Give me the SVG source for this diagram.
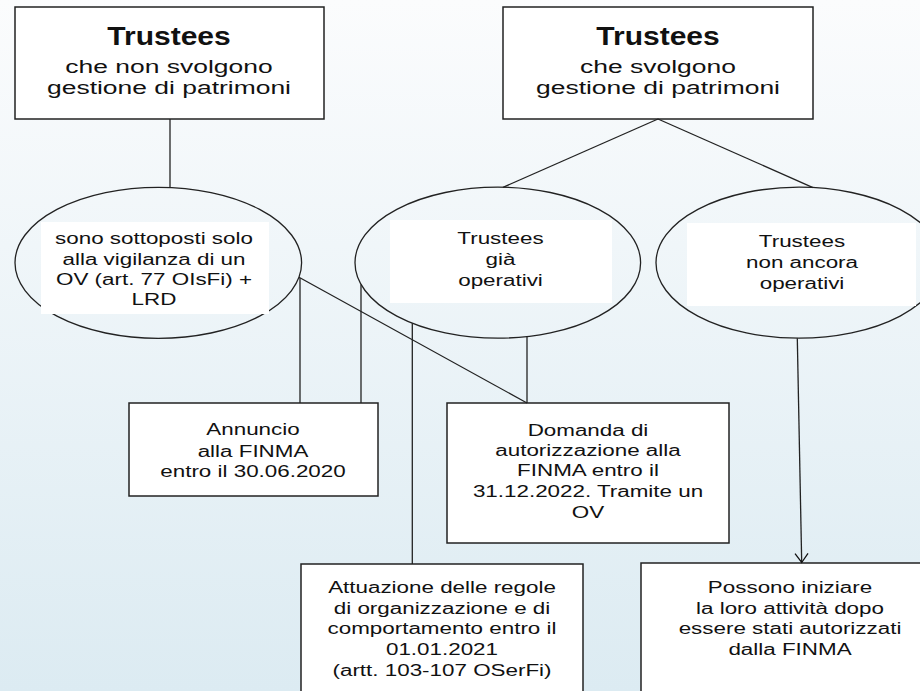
<svg xmlns="http://www.w3.org/2000/svg" width="920" height="691" viewBox="0 0 920 691">
<defs>
<linearGradient id="bg" x1="0" y1="0" x2="0" y2="1">
<stop offset="0" stop-color="#fbfcfd"/>
<stop offset="1" stop-color="#dcebf2"/>
</linearGradient>
<marker id="arr" viewBox="-11 -8 13 16" refX="0" refY="0" markerWidth="13" markerHeight="16" markerUnits="userSpaceOnUse" orient="auto">
<path d="M-9,-6.5 L0,0 L-9,6.5" fill="none" stroke="#111" stroke-width="1.3"/>
</marker>
<style>
.box{fill:#fff;stroke:#222;stroke-width:1.5}
.ell{fill:none;stroke:#222;stroke-width:1.3}
.pad{fill:#fff;stroke:none}
.ln{stroke:#222;stroke-width:1.3;fill:none}
text{font-family:"Liberation Sans",Arial,sans-serif;fill:#111;text-anchor:middle}
.tb{font-size:25px;font-weight:bold}
.tr{font-size:18.5px}
.ts{font-size:16px}
</style>
</defs>
<rect x="0" y="0" width="920" height="691" fill="url(#bg)"/>

<g id="box-non-svolgono">
<rect class="box" x="15" y="7" width="309" height="112"/>
<g transform="matrix(1.2 0 0 1 169 0)"><text class="tb" x="0" y="45.5">Trustees</text></g>
<g transform="matrix(1.43 0 0 1 169 0)">
<text class="tr" x="0" y="73">che non svolgono</text>
<text class="tr" x="0" y="94.5">gestione di patrimoni</text>
</g>
</g>

<g id="box-svolgono">
<rect class="box" x="503" y="7" width="310" height="112"/>
<g transform="matrix(1.2 0 0 1 658 0)"><text class="tb" x="0" y="45.5">Trustees</text></g>
<g transform="matrix(1.43 0 0 1 658 0)">
<text class="tr" x="0" y="73">che svolgono</text>
<text class="tr" x="0" y="94.5">gestione di patrimoni</text>
</g>
</g>

<g id="ell-ov">
<ellipse class="ell" cx="158.3" cy="262.8" rx="143.3" ry="75.5"/>
<rect class="pad" x="41" y="222" width="228" height="92"/>
<g transform="matrix(1.4 0 0 1 154 0)">
<text class="ts" x="0" y="244.5">sono sottoposti solo</text>
<text class="ts" x="0" y="265">alla vigilanza di un</text>
<text class="ts" x="0" y="285.3">OV (art. 77 OIsFi) +</text>
<text class="ts" x="0" y="304.8">LRD</text>
</g>
</g>

<g id="ell-gia">
<ellipse class="ell" cx="497.8" cy="262.7" rx="142.8" ry="75.5"/>
<rect class="pad" x="390" y="220" width="222" height="83"/>
<g transform="matrix(1.4 0 0 1 500.5 0)">
<text class="ts" x="0" y="244.5">Trustees</text>
<text class="ts" x="0" y="265.3">già</text>
<text class="ts" x="0" y="286.3">operativi</text>
</g>
</g>

<g id="ell-non-ancora">
<ellipse class="ell" cx="799" cy="262.7" rx="143" ry="75.5"/>
<rect class="pad" x="687" y="223" width="229" height="83"/>
<g transform="matrix(1.4 0 0 1 802 0)">
<text class="ts" x="0" y="247">Trustees</text>
<text class="ts" x="0" y="268.5">non ancora</text>
<text class="ts" x="0" y="289.5">operativi</text>
</g>
</g>

<g id="box-annuncio">
<rect class="box" x="129" y="403" width="249" height="93"/>
<g transform="matrix(1.4 0 0 1 253 0)">
<text class="ts" x="0" y="435.3">Annuncio</text>
<text class="ts" x="0" y="456.8">alla FINMA</text>
<text class="ts" x="0" y="477.5">entro il 30.06.2020</text>
</g>
</g>

<g id="box-domanda">
<rect class="box" x="447" y="403" width="282" height="140"/>
<g transform="matrix(1.4 0 0 1 588 0)">
<text class="ts" x="0" y="435.8">Domanda di</text>
<text class="ts" x="0" y="456.1">autorizzazione alla</text>
<text class="ts" x="0" y="476.5">FINMA entro il</text>
<text class="ts" x="0" y="496.9">31.12.2022. Tramite un</text>
<text class="ts" x="0" y="517.6">OV</text>
</g>
</g>

<g id="box-attuazione">
<rect class="box" x="301" y="564" width="282" height="140"/>
<g transform="matrix(1.4 0 0 1 442 0)">
<text class="ts" x="0" y="593">Attuazione delle regole</text>
<text class="ts" x="0" y="613.7">di organizzazione e di</text>
<text class="ts" x="0" y="634.4">comportamento entro il</text>
<text class="ts" x="0" y="655.1">01.01.2021</text>
<text class="ts" x="0" y="675.8">(artt. 103-107 OSerFi)</text>
</g>
</g>

<g id="box-possono">
<rect class="box" x="641" y="563" width="300" height="140"/>
<g transform="matrix(1.4 0 0 1 790 0)">
<text class="ts" x="0" y="593">Possono iniziare</text>
<text class="ts" x="0" y="613.7">la loro attività dopo</text>
<text class="ts" x="0" y="634.4">essere stati autorizzati</text>
<text class="ts" x="0" y="655.1">dalla FINMA</text>
</g>
</g>

<g id="connectors">
<line class="ln" x1="170" y1="119" x2="170" y2="187.5"/>
<line class="ln" x1="658" y1="119" x2="503" y2="187.3"/>
<line class="ln" x1="658" y1="119" x2="813" y2="187.6"/>
<line class="ln" x1="300" y1="278" x2="300" y2="403"/>
<line class="ln" x1="299" y1="277.3" x2="527" y2="403"/>
<line class="ln" x1="361" y1="284.4" x2="361" y2="403"/>
<line class="ln" x1="412.3" y1="323.3" x2="412.3" y2="564"/>
<line class="ln" x1="527" y1="336.8" x2="527" y2="403"/>
<line class="ln" x1="797.3" y1="338.2" x2="801.7" y2="562.5" marker-end="url(#arr)"/>
</g>
</svg>
